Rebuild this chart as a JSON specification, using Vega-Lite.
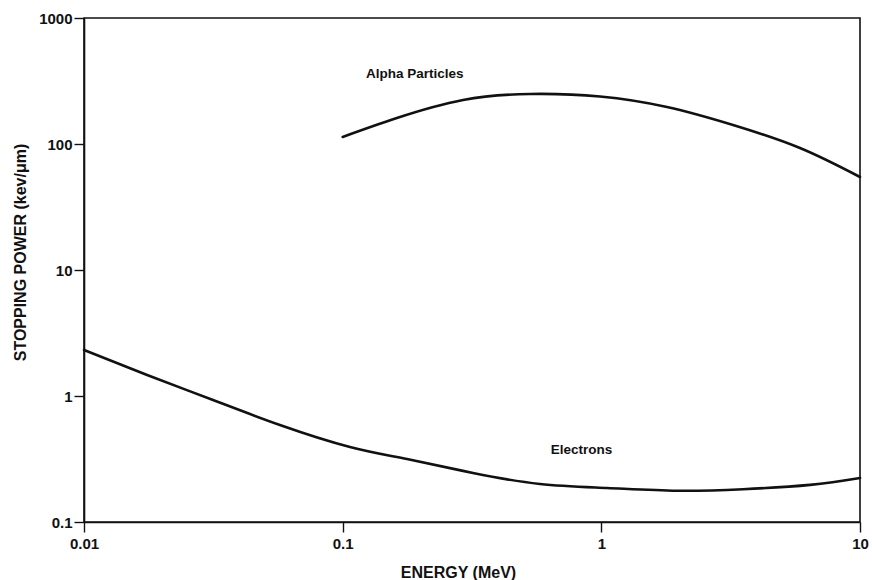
{
  "$schema": "https://vega.github.io/schema/vega-lite/v6.json",
  "width": 776,
  "height": 504,
  "autosize": {"type": "none"},
  "padding": {"left": 84, "top": 18, "right": 12, "bottom": 58},
  "background": "white",
  "config": {
    "font": "Liberation Sans",
    "view": {"stroke": "#111", "strokeWidth": 1.6},
    "axis": {
      "domainColor": "#111",
      "domainWidth": 1.6,
      "tickColor": "#111",
      "tickWidth": 1.4,
      "tickSize": 10,
      "grid": false,
      "labelFont": "Liberation Sans",
      "labelFontWeight": "bold",
      "labelFontSize": 15,
      "labelColor": "#111",
      "titleFont": "Liberation Sans",
      "titleFontWeight": "bold",
      "titleFontSize": 16,
      "titleColor": "#111"
    }
  },
  "datasets": {
    "curves": [
      {"series": "Alpha", "energy": 0.1, "sp": 113.8},
      {"series": "Alpha", "energy": 0.162, "sp": 160.8},
      {"series": "Alpha", "energy": 0.292, "sp": 223.5},
      {"series": "Alpha", "energy": 0.53, "sp": 249.4},
      {"series": "Alpha", "energy": 0.988, "sp": 238.3},
      {"series": "Alpha", "energy": 1.794, "sp": 196.6},
      {"series": "Alpha", "energy": 3.23, "sp": 141.5},
      {"series": "Alpha", "energy": 5.86, "sp": 92.9},
      {"series": "Alpha", "energy": 10, "sp": 54.7},
      {"series": "Electrons", "energy": 0.01, "sp": 2.32},
      {"series": "Electrons", "energy": 0.01754, "sp": 1.47},
      {"series": "Electrons", "energy": 0.03154, "sp": 0.929},
      {"series": "Electrons", "energy": 0.0572, "sp": 0.589},
      {"series": "Electrons", "energy": 0.1067, "sp": 0.394},
      {"series": "Electrons", "energy": 0.1773, "sp": 0.316},
      {"series": "Electrons", "energy": 0.319, "sp": 0.245},
      {"series": "Electrons", "energy": 0.579, "sp": 0.2004},
      {"series": "Electrons", "energy": 1.052, "sp": 0.1862},
      {"series": "Electrons", "energy": 1.961, "sp": 0.177},
      {"series": "Electrons", "energy": 3.53, "sp": 0.182},
      {"series": "Electrons", "energy": 6.41, "sp": 0.197},
      {"series": "Electrons", "energy": 10, "sp": 0.2234}
    ],
    "labels": [
      {"label": "Alpha Particles", "energy": 0.123, "sp": 359},
      {"label": "Electrons", "energy": 0.638, "sp": 0.373}
    ]
  },
  "layer": [
    {
      "data": {"name": "curves"},
      "mark": {"type": "line", "interpolate": "natural", "strokeWidth": 2.6, "strokeCap": "round"},
      "encoding": {
        "x": {
          "field": "energy",
          "type": "quantitative",
          "scale": {"type": "log", "domain": [0.01, 10], "nice": false},
          "axis": {
            "values": [0.01, 0.1, 1, 10],
            "labelExpr": "datum.value < 0.05 ? '0.01' : datum.value < 0.5 ? '0.1' : datum.value < 5 ? '1' : '10'",
            "labelPadding": 4,
            "title": "ENERGY (MeV)",
            "titleX": 374,
            "titleY": 50,
            "titleAlign": "center",
            "titleBaseline": "middle",
            "labelFlush": false
          }
        },
        "y": {
          "field": "sp",
          "type": "quantitative",
          "scale": {"type": "log", "domain": [0.1, 1000], "nice": false},
          "axis": {
            "values": [0.1, 1, 10, 100, 1000],
            "labelExpr": "datum.value < 0.5 ? '0.1' : datum.value < 5 ? '1' : datum.value < 50 ? '10' : datum.value < 500 ? '100' : '1000'",
            "labelPadding": 2,
            "title": "STOPPING POWER (kev/μm)",
            "titleX": -64,
            "titleY": 234,
            "titleAngle": 270,
            "titleAlign": "center",
            "titleBaseline": "middle",
            "labelFlush": false
          }
        },
        "detail": {"field": "series", "type": "nominal"},
        "color": {"value": "#111"}
      }
    },
    {
      "data": {"name": "labels"},
      "mark": {"type": "text", "align": "left", "baseline": "middle", "font": "Liberation Sans", "fontWeight": "bold", "fontSize": 13.5, "color": "#111"},
      "encoding": {
        "x": {"field": "energy", "type": "quantitative"},
        "y": {"field": "sp", "type": "quantitative"},
        "text": {"field": "label"}
      }
    }
  ]
}
